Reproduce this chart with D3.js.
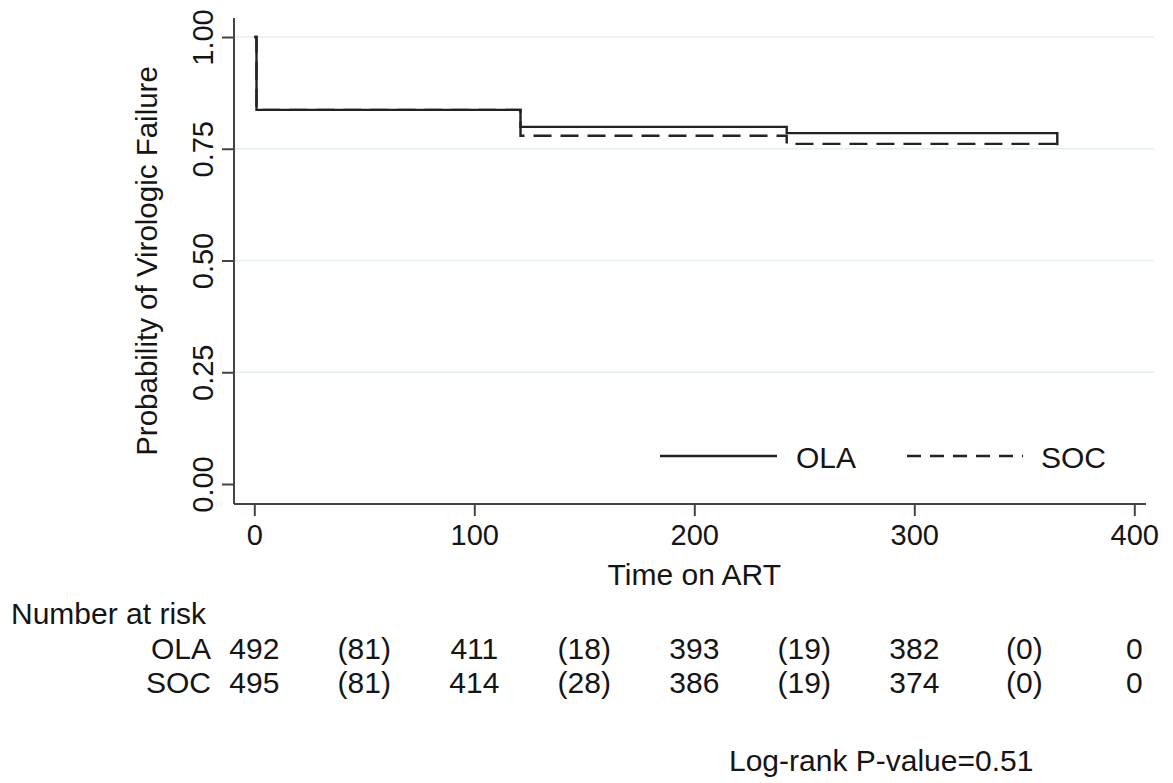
<!DOCTYPE html>
<html>
<head>
<meta charset="utf-8">
<script src="https://cdn.jsdelivr.net/npm/d3@7"></script>
<style>
  html, body { margin: 0; padding: 0; background: #fff; }
  svg { display: block; font-family: "Liberation Sans", Arial, Helvetica, sans-serif; }
</style>
</head>
<body>
<svg id="chart" width="1173" height="783"></svg>
<script>
// ---- data ----
const times = [0, 1, 121, 242, 365];
const olaSurv = [1.0, 0.837, 0.799, 0.785, 0.758];
const socSurv = [1.0, 0.837, 0.779, 0.761, 0.743];
const xTicks = [0, 100, 200, 300, 400];
const yTicks = [0, 0.25, 0.5, 0.75, 1.0];
const riskTimes = [0, 50, 100, 150, 200, 250, 300, 350, 400];
const riskGroups = ["OLA", "SOC"];
const olaRisk = ["492", "(81)", "411", "(18)", "393", "(19)", "382", "(0)", "0"];
const socRisk = ["495", "(81)", "414", "(28)", "386", "(19)", "374", "(0)", "0"];
const legendLabels = ["OLA", "SOC"];
const xTitle = "Time on ART";
const yTitle = "Probability of Virologic Failure";
const riskTitle = "Number at risk";
const pValueText = "Log-rank P-value=0.51";

// ---- layout ----
const svg = d3.select("#chart");
const fs = 30, tfs = 29;
const ink = "#151515";
const x = d3.scaleLinear().domain([0, 400]).range([254.3, 1134.3]);
const y = d3.scaleLinear().domain([0, 1]).range([484, 37]);
const axisLeftX = 234, axisBottomY = 504, axisTopY = 18, axisRightX = 1146;

// gridlines
svg.append("g").selectAll("line").data(yTicks.filter(d => d > 0)).join("line")
  .attr("x1", axisLeftX).attr("x2", axisRightX + 8)
  .attr("y1", d => y(d)).attr("y2", d => y(d))
  .attr("stroke", "#e4eeee").attr("stroke-width", 1.5);

// y axis
const yAxis = svg.append("g").attr("transform", `translate(${axisLeftX},0)`)
  .call(d3.axisLeft(y).tickValues(yTicks).tickFormat(d3.format(".2f")).tickSize(12).tickPadding(0));
yAxis.select(".domain").remove();
yAxis.append("line").attr("x1", 0).attr("x2", 0).attr("y1", axisTopY).attr("y2", axisBottomY)
  .attr("stroke", "#444").attr("stroke-width", 2);
yAxis.selectAll(".tick line").attr("stroke", "#444").attr("stroke-width", 2);
yAxis.selectAll(".tick text")
  .attr("font-size", tfs).attr("fill", ink).attr("font-family", "Liberation Sans, Arial, sans-serif")
  .attr("transform", "rotate(-90)")
  .attr("x", 0).attr("y", -21).attr("dy", 0)
  .attr("text-anchor", "middle");

// x axis
const xAxis = svg.append("g").attr("transform", `translate(0,${axisBottomY})`)
  .call(d3.axisBottom(x).tickValues(xTicks).tickFormat(d3.format("d")).tickSize(12).tickPadding(0));
xAxis.select(".domain").remove();
xAxis.append("line").attr("x1", axisLeftX).attr("x2", axisRightX).attr("y1", 0).attr("y2", 0)
  .attr("stroke", "#444").attr("stroke-width", 2);
xAxis.selectAll(".tick line").attr("stroke", "#444").attr("stroke-width", 2);
xAxis.selectAll(".tick text")
  .attr("font-size", tfs).attr("fill", ink).attr("font-family", "Liberation Sans, Arial, sans-serif")
  .attr("y", 41).attr("dy", 0);

// axis titles
svg.append("text").attr("x", x(200)).attr("y", 585).attr("text-anchor", "middle")
  .attr("font-size", fs).attr("fill", ink).text(xTitle);
svg.append("text").attr("transform", `translate(157,${(axisTopY + axisBottomY) / 2}) rotate(-90)`)
  .attr("text-anchor", "middle").attr("font-size", 29.5).attr("fill", ink).text(yTitle);

// curves
const line = d3.line().x(d => x(d[0])).y(d => y(d[1])).curve(d3.curveStepAfter);
const olaPts = times.map((t, i) => [t, olaSurv[i]]);
const socPts = times.map((t, i) => [t, socSurv[i]]);
svg.append("path").attr("d", line(socPts)).attr("fill", "none")
  .attr("stroke", "#222").attr("stroke-width", 2.4).attr("stroke-dasharray", "18,9");
svg.append("path").attr("d", line(olaPts)).attr("fill", "none")
  .attr("stroke", "#222").attr("stroke-width", 2.4);

// legend
const legY = 456;
svg.append("line").attr("x1", 660).attr("x2", 777).attr("y1", legY).attr("y2", legY)
  .attr("stroke", "#222").attr("stroke-width", 2.4);
svg.append("text").attr("x", 796).attr("y", legY + 12).attr("font-size", fs).attr("fill", ink).text(legendLabels[0]);
svg.append("line").attr("x1", 907).attr("x2", 1023).attr("y1", legY).attr("y2", legY)
  .attr("stroke", "#222").attr("stroke-width", 2.4).attr("stroke-dasharray", "14,9");
svg.append("text").attr("x", 1041).attr("y", legY + 12).attr("font-size", fs).attr("fill", ink).text(legendLabels[1]);

// risk table
svg.append("text").attr("x", 11).attr("y", 624).attr("font-size", fs).attr("fill", ink).text(riskTitle);
const rows = [olaRisk, socRisk];
const rowY = [659, 693];
rows.forEach((vals, r) => {
  svg.append("text").attr("x", 211).attr("y", rowY[r]).attr("text-anchor", "end")
    .attr("font-size", fs).attr("fill", ink).text(riskGroups[r]);
  svg.append("g").selectAll("text").data(vals).join("text")
    .attr("x", (d, i) => x(riskTimes[i])).attr("y", rowY[r]).attr("text-anchor", "middle")
    .attr("font-size", fs).attr("fill", ink).text(d => d);
});

svg.append("text").attr("x", 729).attr("y", 771).attr("font-size", fs).attr("fill", ink).text(pValueText);
</script>
</body>
</html>
